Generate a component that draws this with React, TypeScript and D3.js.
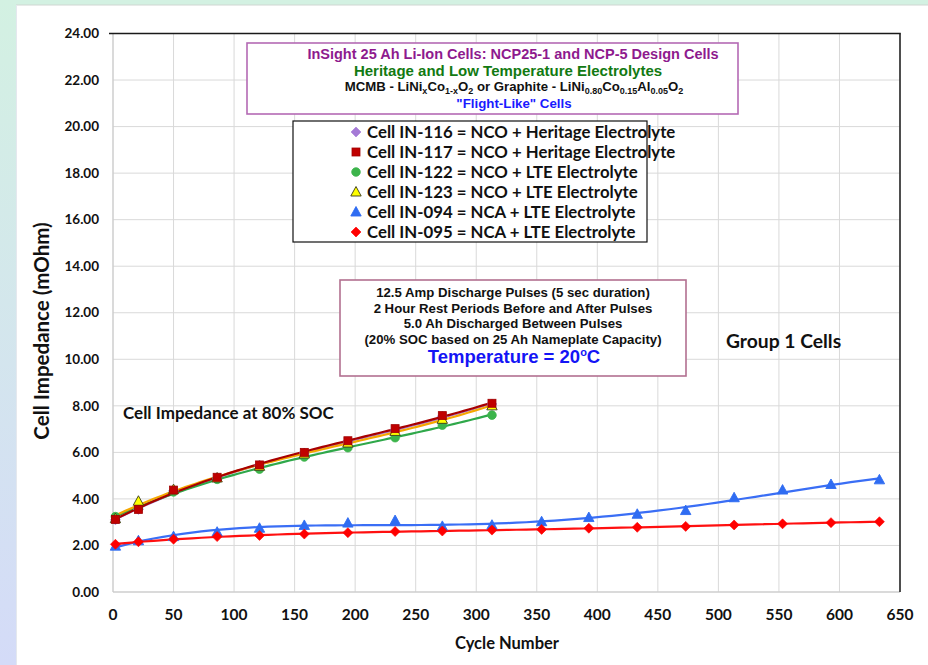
import * as d3 from "d3";

// cycle numbers for the two groups of cells
const cyclesNCO = [2, 21, 50, 86, 121, 158, 194, 233, 272, 313];
const cyclesNCA = [2, 21, 50, 86, 121, 158, 194, 233, 272, 313, 354, 393, 433, 473, 513, 553, 593, 633];

// impedance in mOhm
const in116 = [3.1, 3.55, 4.35, 4.9, 5.45, 5.97, 6.45, 6.97, 7.55, 8.08];
const in117 = [3.12, 3.55, 4.38, 4.93, 5.46, 6.0, 6.5, 7.02, 7.58, 8.11];
const in122 = [3.24, 3.6, 4.3, 4.84, 5.28, 5.8, 6.2, 6.63, 7.17, 7.6];
const in123 = [3.15, 3.9, 4.4, 4.9, 5.4, 5.93, 6.4, 6.9, 7.42, 8.0];
const in094 = [1.97, 2.2, 2.38, 2.57, 2.74, 2.86, 2.96, 3.07, 2.82, 2.87, 3.02, 3.2, 3.34, 3.5, 4.05, 4.38, 4.62, 4.82];
const in095 = [2.05, 2.16, 2.27, 2.38, 2.43, 2.49, 2.55, 2.6, 2.62, 2.66, 2.69, 2.74, 2.78, 2.82, 2.88, 2.93, 2.98, 3.02];

const xTicks = [0, 50, 100, 150, 200, 250, 300, 350, 400, 450, 500, 550, 600, 650];
const yTicks = [0, 2, 4, 6, 8, 10, 12, 14, 16, 18, 20, 22, 24];

const legendLabels = [
  "Cell IN-116 = NCO + Heritage Electrolyte",
  "Cell IN-117 = NCO + Heritage Electrolyte",
  "Cell IN-122 = NCO + LTE Electrolyte",
  "Cell IN-123 = NCO + LTE Electrolyte",
  "Cell IN-094 = NCA + LTE Electrolyte",
  "Cell IN-095 = NCA + LTE Electrolyte",
];

const noteLines = [
  "12.5 Amp Discharge Pulses (5 sec duration)",
  "2 Hour Rest Periods Before and After Pulses",
  "5.0 Ah Discharged Between Pulses",
  "(20%  SOC based on 25 Ah Nameplate Capacity)",
];

type Shape = "diamond" | "square" | "circle" | "triangle";

const series = [
  { x: cyclesNCO, y: in116, shape: "diamond" as Shape, fill: "#a57ad6", stroke: "#a57ad6", line: "#a57ad6", deg: 3 },
  { x: cyclesNCO, y: in122, shape: "circle" as Shape, fill: "#3cb44b", stroke: "#3cb44b", line: "#2fa84a", deg: 3 },
  { x: cyclesNCO, y: in123, shape: "triangle" as Shape, fill: "#ffff00", stroke: "#3a3a1a", line: "#f5a700", deg: 3 },
  { x: cyclesNCO, y: in117, shape: "square" as Shape, fill: "#c00000", stroke: "#a00000", line: "#a80000", deg: 3 },
  { x: cyclesNCA, y: in094, shape: "triangle" as Shape, fill: "#2f6cf2", stroke: "#2f6cf2", line: "#3a6ef5", deg: 4 },
  { x: cyclesNCA, y: in095, shape: "diamond" as Shape, fill: "#ff0000", stroke: "#ff0000", line: "#ff1010", deg: 4 },
];
// legend order differs from draw order
const legendOrder = [0, 3, 1, 2, 4, 5];

// least squares polynomial trendline (like Excel)
function polyfit(xs: number[], ys: number[], deg: number) {
  const s = d3.max(xs) ?? 1;
  const n = deg + 1;
  const A: number[][] = Array.from({ length: n }, () => new Array(n + 1).fill(0));
  xs.forEach((xv, k) => {
    const t = xv / s;
    for (let i = 0; i < n; i++) {
      for (let j = 0; j < n; j++) A[i][j] += Math.pow(t, i + j);
      A[i][n] += Math.pow(t, i) * ys[k];
    }
  });
  for (let i = 0; i < n; i++) {
    let p = i;
    for (let r = i + 1; r < n; r++) if (Math.abs(A[r][i]) > Math.abs(A[p][i])) p = r;
    [A[i], A[p]] = [A[p], A[i]];
    for (let r = 0; r < n; r++) {
      if (r === i) continue;
      const f = A[r][i] / A[i][i];
      for (let c = i; c <= n; c++) A[r][c] -= f * A[i][c];
    }
  }
  const coef = A.map((row, i) => row[n] / row[i]);
  return (xv: number) => coef.reduce((acc, c, i) => acc + c * Math.pow(xv / s, i), 0);
}

const W = 928;
const H = 665;
const M = { left: 113, right: 900, top: 33.5, bottom: 592 };

const x = d3.scaleLinear().domain([0, 650]).range([M.left, M.right]);
const y = d3.scaleLinear().domain([0, 24]).range([M.bottom, M.top]);

function marker(shape: Shape, cx: number, cy: number, fill: string, stroke: string, key: any) {
  if (shape === "circle") return <circle key={key} cx={cx} cy={cy} r={4.3} fill={fill} stroke={stroke} strokeWidth={0.8} />;
  if (shape === "square") return <rect key={key} x={cx - 4} y={cy - 4} width={8} height={8} fill={fill} stroke={stroke} strokeWidth={0.8} />;
  if (shape === "diamond")
    return <path key={key} d={`M${cx},${cy - 5}L${cx + 5},${cy}L${cx},${cy + 5}L${cx - 5},${cy}Z`} fill={fill} stroke={stroke} strokeWidth={0.6} />;
  return <path key={key} d={`M${cx},${cy - 5.5}L${cx + 5.2},${cy + 4}L${cx - 5.2},${cy + 4}Z`} fill={fill} stroke={stroke} strokeWidth={0.9} />;
}

const calibri = "Lato, 'Open Sans', sans-serif";
const arial = "'Liberation Sans', Arial, sans-serif";

export default function App() {
  const line = d3
    .line<number[]>()
    .x((d) => x(d[0]))
    .y((d) => y(d[1]));

  return (
    <div style={{ position: "absolute", left: 0, top: 0 }}>
      <svg width={W} height={H} style={{ display: "block" }}>
        <defs>
          <linearGradient id="side" x1="0" y1="0" x2="0" y2="1">
            <stop offset="0" stopColor="#d3f1e2" />
            <stop offset="1" stopColor="#d4dbf8" />
          </linearGradient>
        </defs>
        <rect width={W} height={H} fill="#ffffff" />
        <rect x={0} y={0} width={W} height={5} fill="#d3f1e2" />
        <rect x={0} y={0} width={16} height={H} fill="url(#side)" />
        <line x1={16} x2={W} y1={5} y2={5} stroke="#cfd6d2" />
        <line x1={16.5} x2={16.5} y1={5} y2={H} stroke="#e4e8ee" />

        {/* grid */}
        {xTicks.map((t) => (
          <line key={"gx" + t} x1={x(t)} x2={x(t)} y1={M.top} y2={M.bottom} stroke="#d9d9d9" strokeWidth={1} />
        ))}
        {yTicks.map((t) => (
          <line key={"gy" + t} x1={M.left} x2={M.right} y1={y(t)} y2={y(t)} stroke="#d9d9d9" strokeWidth={1} />
        ))}
        {/* frame */}
        <line x1={M.left} x2={M.left} y1={M.top} y2={M.bottom} stroke="#c8c8c8" />
        <line x1={M.left} x2={M.right} y1={M.bottom} y2={M.bottom} stroke="#c8c8c8" />
        <line x1={M.left - 4} x2={M.right + 0.75} y1={M.top} y2={M.top} stroke="#1a1a1a" strokeWidth={1.5} />
        <line x1={M.right} x2={M.right} y1={M.top} y2={M.bottom} stroke="#1a1a1a" strokeWidth={1.5} />

        {/* tick labels */}
        {yTicks.map((t) => (
          <text key={"ty" + t} x={99} y={y(t)} dy="0.35em" textAnchor="end" fontFamily={calibri} fontWeight={700} fontSize={13.5} fill="#111">
            {t.toFixed(2)}
          </text>
        ))}
        {xTicks.map((t) => (
          <text key={"tx" + t} x={x(t)} y={615} dy="0.35em" textAnchor="middle" fontFamily={calibri} fontWeight={700} fontSize={15.5} fill="#111">
            {t}
          </text>
        ))}
        <text x={507} y={643} dy="0.35em" textAnchor="middle" fontFamily={calibri} fontWeight={700} fontSize={16.5} fill="#111">
          Cycle Number
        </text>
        <text
          transform="translate(42,331) rotate(-90)"
          textAnchor="middle"
          dy="0.35em"
          fontFamily={calibri}
          fontWeight={700}
          fontSize={20.5}
          fill="#111"
        >
          Cell Impedance (mOhm)
        </text>

        {/* trendlines */}
        {series.map((s, i) => {
          const f = polyfit(s.x, s.y, s.deg);
          const x0 = s.x[0];
          const x1 = s.x[s.x.length - 1];
          const pts = d3.range(0, 81).map((k) => {
            const xv = x0 + ((x1 - x0) * k) / 80;
            return [xv, f(xv)];
          });
          return <path key={"l" + i} d={line(pts) ?? ""} fill="none" stroke={s.line} strokeWidth={2.2} />;
        })}
        {/* markers */}
        {series.map((s, i) => (
          <g key={"m" + i}>{s.x.map((xv, j) => marker(s.shape, x(xv), y(s.y[j]), s.fill, s.stroke, j))}</g>
        ))}

        {/* title box */}
        <rect x={247} y={43} width={491} height={71} fill="#fff" stroke="#b46ab4" strokeWidth={1.6} />
        <text x={513} y={59} textAnchor="middle" fontFamily={arial} fontWeight={700} fontSize={14.5} fill="#8e1a8e">
          InSight 25 Ah  Li-Ion Cells: NCP25-1 and NCP-5 Design Cells
        </text>
        <text x={508} y={76} textAnchor="middle" fontFamily={arial} fontWeight={700} fontSize={15} fill="#127a12">
          Heritage and Low Temperature Electrolytes
        </text>
        <text x={514} y={91} textAnchor="middle" fontFamily={arial} fontWeight={700} fontSize={13.2} fill="#111">
          MCMB - LiNi<tspan fontSize={9} dy={3}>x</tspan>
          <tspan dy={-3}>Co</tspan>
          <tspan fontSize={9} dy={3}>1-x</tspan>
          <tspan dy={-3}>O</tspan>
          <tspan fontSize={9} dy={3}>2</tspan>
          <tspan dy={-3}> or Graphite - LiNi</tspan>
          <tspan fontSize={9} dy={3}>0.80</tspan>
          <tspan dy={-3}>Co</tspan>
          <tspan fontSize={9} dy={3}>0.15</tspan>
          <tspan dy={-3}>Al</tspan>
          <tspan fontSize={9} dy={3}>0.05</tspan>
          <tspan dy={-3}>O</tspan>
          <tspan fontSize={9} dy={3}>2</tspan>
        </text>
        <text x={514} y={107.5} textAnchor="middle" fontFamily={arial} fontWeight={700} fontSize={13.3} fill="#1a1aff">
          "Flight-Like" Cells
        </text>

        {/* legend */}
        <rect x={293} y={121} width={354} height={121} fill="#fff" stroke="#111" strokeWidth={1.2} />
        {legendOrder.map((si, r) => {
          const s = series[si];
          const cy = 132 + r * 20;
          return (
            <g key={"lg" + r}>
              {marker(s.shape, 356, cy, s.fill, s.stroke, "lm")}
              <text x={367} y={cy} dy="0.35em" fontFamily={calibri} fontWeight={700} fontSize={16.8} fill="#111">
                {legendLabels[r]}
              </text>
            </g>
          );
        })}

        {/* test conditions box */}
        <rect x={340} y={280} width={346} height={96} fill="#fff" stroke="#b27090" strokeWidth={1.6} />
        {noteLines.map((t, i) => (
          <text key={"n" + i} x={513} y={297 + i * 15.6} textAnchor="middle" fontFamily={arial} fontWeight={700} fontSize={13.2} fill="#111">
            {t}
          </text>
        ))}
        <text x={514} y={363} textAnchor="middle" fontFamily={arial} fontWeight={700} fontSize={18.5} fill="#1414f5">
          Temperature = 20
          <tspan fontSize={11} dy={-7}>o</tspan>
          <tspan dy={7}>C</tspan>
        </text>

        <text x={726} y={341} dy="0.35em" fontFamily={calibri} fontWeight={700} fontSize={19.3} fill="#111">
          Group 1 Cells
        </text>
        <text x={123} y={413} dy="0.35em" fontFamily={calibri} fontWeight={700} fontSize={17} fill="#111">
          Cell Impedance at 80% SOC
        </text>
      </svg>
    </div>
  );
}
